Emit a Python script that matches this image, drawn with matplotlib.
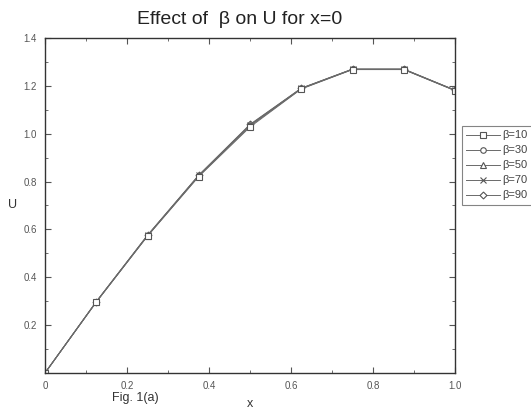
import matplotlib.pyplot as plt
from matplotlib.ticker import MultipleLocator, FormatStrFormatter

plt.rcParams['font.family'] = ['Liberation Sans', 'DejaVu Sans']

# data
x = [0, 0.125, 0.25, 0.375, 0.5, 0.625, 0.75, 0.875, 1.0]
betas = ['10', '30', '50', '70', '90']
u_b10 = [0, 0.296, 0.572, 0.821, 1.028, 1.187, 1.268, 1.268, 1.180]
u_b30 = [0, 0.297, 0.573, 0.823, 1.032, 1.188, 1.269, 1.269, 1.181]
u_b50 = [0, 0.297, 0.574, 0.825, 1.035, 1.189, 1.269, 1.269, 1.181]
u_b70 = [0, 0.298, 0.575, 0.826, 1.037, 1.190, 1.270, 1.270, 1.182]
u_b90 = [0, 0.298, 0.576, 0.827, 1.039, 1.190, 1.270, 1.270, 1.182]
series = [u_b10, u_b30, u_b50, u_b70, u_b90]
markers = ['s', 'o', '^', 'x', 'D']
msizes = [5, 4, 4, 4, 3.5]

fig = plt.figure(figsize=(5.31, 4.11), dpi=100)
ax = fig.add_axes([45 / 531, 1 - 373 / 411, 410 / 531, 335 / 411])

lines = []
for i in reversed(range(len(series))):
    ln, = ax.plot(x, series[i], color='#6a6a6a', lw=0.7, marker=markers[i],
                  markersize=msizes[i], markerfacecolor='white',
                  markeredgecolor='#555555', markeredgewidth=0.8,
                  label='\u03b2=' + betas[i])
    lines.append(ln)
lines = lines[::-1]

ax.set_xlim(0, 1.0)
ax.set_ylim(0, 1.4)
ax.xaxis.set_minor_locator(MultipleLocator(0.1))
ax.yaxis.set_minor_locator(MultipleLocator(0.1))
ax.set_xticks([0, 0.2, 0.4, 0.6, 0.8, 1.0])
ax.set_xticklabels(['0', '0.2', '0.4', '0.6', '0.8', '1.0'])
ax.set_yticks([0.2, 0.4, 0.6, 0.8, 1.0, 1.2, 1.4])
ax.yaxis.set_major_formatter(FormatStrFormatter('%.1f'))
ax.tick_params(which='both', direction='in', top=True, right=True,
               labelsize=7, colors='#555555')
ax.tick_params(which='major', length=4, pad=6)
ax.tick_params(which='minor', length=2)
for s in ax.spines.values():
    s.set_color('#333333')
    s.set_linewidth(1.0)

fig.text(240 / 531, 1 - 19 / 411, 'Effect of  \u03b2 on U for x=0', fontsize=14,
         ha='center', va='center', color='#222222')
fig.text(13 / 531, 1 - 205 / 411, 'U', fontsize=9, ha='center', va='center',
         color='#333333')
fig.text(250 / 531, 1 - 404 / 411, 'x', fontsize=9, ha='center', va='center',
         color='#333333')
fig.text(112 / 531, 1 - 398 / 411, 'Fig. 1(a)', fontsize=9, ha='left',
         va='center', color='#333333')

leg = fig.legend(handles=lines, loc='upper left',
                 bbox_to_anchor=(462 / 531, 1 - 126 / 411),
                 fontsize=8, frameon=True, fancybox=False, handlelength=3,
                 handletextpad=0.2, borderpad=0.4, labelspacing=0.45,
                 borderaxespad=0)
leg.get_frame().set_edgecolor('#666666')
leg.get_frame().set_linewidth(0.8)
for t in leg.get_texts():
    t.set_color('#444444')

fig.savefig('out.png', dpi=100)
